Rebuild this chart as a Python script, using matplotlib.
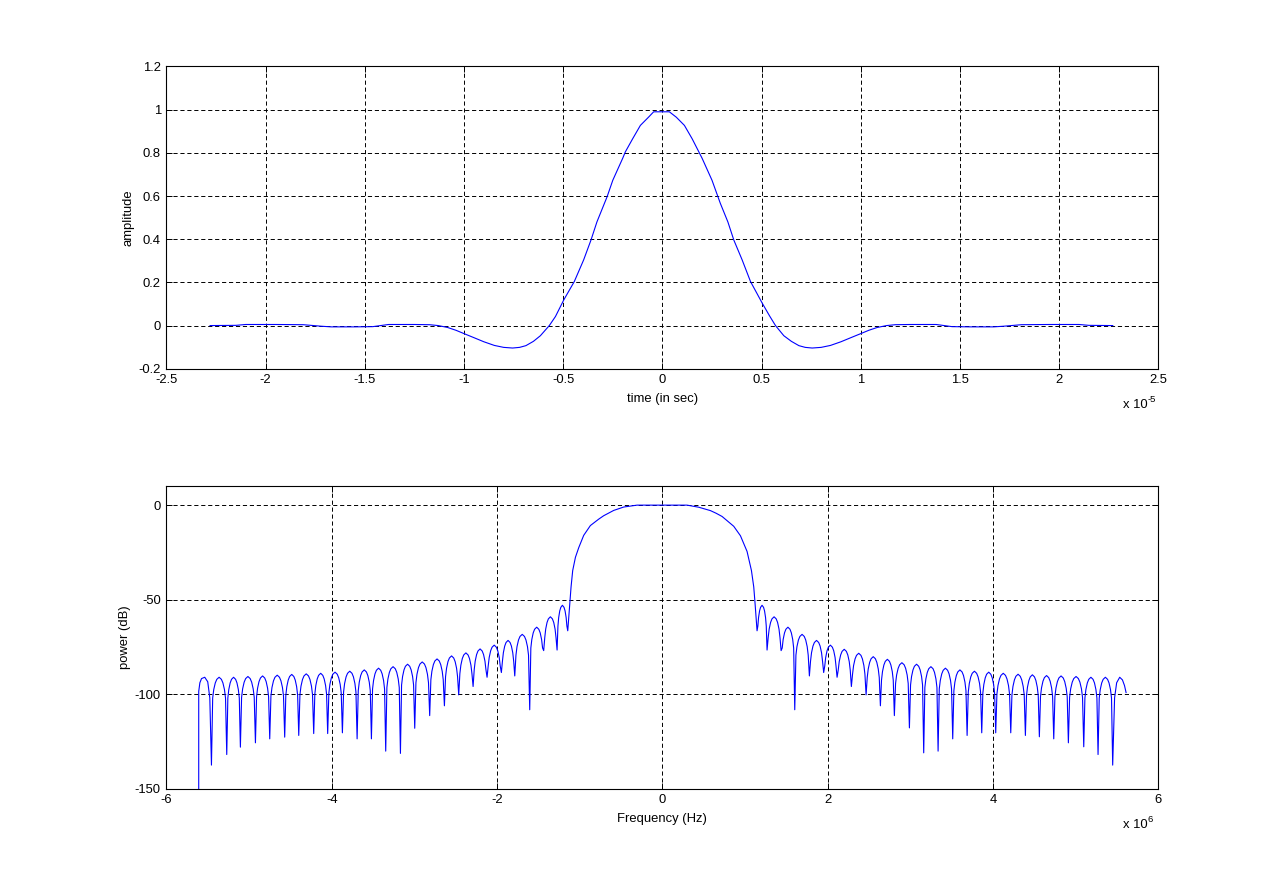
import numpy as np
import matplotlib
matplotlib.use("Agg")
import matplotlib.pyplot as plt
from matplotlib.ticker import FormatStrFormatter

plt.rcParams['font.family'] = ['Liberation Sans', 'DejaVu Sans']
plt.rcParams['font.size'] = 9.4
plt.rcParams['axes.unicode_minus'] = False
plt.rcParams['lines.scale_dashes'] = False

# ---- time domain pulse (time in units of 1e-5 s) ----
time_e5 = [-2.28, -2.15, -2.1, -1.95, -1.81, -1.72, -1.67, -1.55, -1.46, -1.42,
           -1.38, -1.25, -1.174, -1.13, -1.082, -1.04, -0.998, -0.95, -0.9, -0.847,
           -0.8, -0.755, -0.72, -0.688, -0.65, -0.615, -0.57, -0.539, -0.497, -0.444,
           -0.397, -0.36, -0.33, -0.279, -0.25, -0.2, -0.187, -0.15, -0.111, -0.07,
           -0.044, 0.0, 0.035, 0.07, 0.111, 0.15, 0.175, 0.2, 0.25, 0.292,
           0.33, 0.36, 0.402, 0.444, 0.503, 0.54, 0.57, 0.612, 0.65, 0.688,
           0.72, 0.755, 0.8, 0.847, 0.9, 0.95, 0.998, 1.04, 1.082, 1.13,
           1.174, 1.25, 1.38, 1.42, 1.46, 1.55, 1.67, 1.72, 1.81, 1.95,
           2.1, 2.15, 2.27]
amplitude = [0.0, 0.001, 0.005, 0.005, 0.004, -0.003, -0.006, -0.006, -0.005, 0.0,
             0.005, 0.005, 0.004, 0.0, -0.009, -0.022, -0.038, -0.056, -0.075, -0.092,
             -0.101, -0.104, -0.101, -0.093, -0.073, -0.047, 0.0, 0.042, 0.119, 0.204,
             0.304, 0.396, 0.48, 0.596, 0.673, 0.775, 0.804, 0.865, 0.927, 0.965,
             0.99, 0.99, 0.99, 0.965, 0.927, 0.865, 0.82, 0.775, 0.673, 0.566,
             0.48, 0.396, 0.304, 0.204, 0.104, 0.045, 0.0, -0.047, -0.073, -0.093,
             -0.101, -0.104, -0.101, -0.092, -0.075, -0.056, -0.038, -0.022, -0.009, 0.0,
             0.004, 0.005, 0.005, 0.0, -0.005, -0.006, -0.006, -0.003, 0.004, 0.005,
             0.005, 0.001, 0.0]

# ---- spectrum (frequency in units of 1e6 Hz) ----
# sidelobe nulls, null depths and lobe peak levels
left_null_f = [-5.455, -5.270, -5.105, -4.923, -4.750, -4.569, -4.399, -4.218, -4.049,
               -3.871, -3.693, -3.520, -3.347, -3.169, -2.996, -2.815, -2.637, -2.464,
               -2.290, -2.121, -1.948, -1.786, -1.605, -1.436, -1.274, -1.145]
left_null_db = [-137.6, -132, -128.1, -125.8, -123.7, -122.8, -121.9, -120.9, -120.9,
                -120.5, -123.7, -123.7, -130.2, -131.4, -118.1, -111.4, -106.2, -100.4,
                -96, -91.1, -88.6, -90.4, -108.3, -77, -76.7, -66.5]
left_peak_db = [-91.1, -91.1, -90.7, -90.4, -90.0, -89.6, -89.3, -89.0, -88.4, -87.9,
                -87.2, -86.3, -85.5, -84.2, -83.0, -81.4, -79.8, -78.2, -76.1, -74.1,
                -71.6, -68.4, -64.6, -59.1, -53.0]

right_null_f = [1.145, 1.266, 1.436, 1.601, 1.778, 1.951, 2.113, 2.286, 2.464, 2.637,
                2.806, 2.988, 3.161, 3.335, 3.512, 3.686, 3.863, 4.032, 4.214, 4.391,
                4.560, 4.734, 4.911, 5.097, 5.270, 5.447]
right_null_db = [-66.5, -76.7, -77, -108.3, -90.4, -88.6, -91.1, -96, -100.4, -106.2,
                 -111.4, -117.9, -131.1, -130.2, -123.7, -121.9, -120.5, -120.5, -120.5,
                 -121.9, -122.6, -123.7, -125.8, -127.9, -132, -137.6]
right_peak_db = [-53, -59.1, -64.6, -68.4, -71.6, -74.1, -76.3, -78.4, -80.2, -81.6,
                 -83.4, -84.2, -85.5, -86.3, -87.2, -87.9, -88.4, -89, -89.5, -89.8,
                 -90.2, -90.4, -90.7, -91.1, -91.1]

# shape of one sidelobe: position inside the lobe and level below its peak
lobe_u = [0.08, 0.15, 0.25, 0.35, 0.5, 0.65, 0.75, 0.85, 0.92]
lobe_drop = [-11, -6.5, -3, -1.1, 0, -1.1, -3, -6.5, -11]

main_f = [-1.121, -1.105, -1.085, -1.052, -1.012, -0.952, -0.871, -0.770, -0.710,
          -0.65, -0.589, -0.468, -0.306, 0.0, 0.298, 0.439, 0.581, 0.65, 0.722,
          0.863, 0.944, 1.024, 1.077, 1.105, 1.121]
main_db = [-52.1, -43.3, -34.6, -27.6, -22.5, -16, -10.8, -7.4, -5.6,
           -4.2, -2.8, -1.0, 0, 0, 0, -1.1, -2.9, -4.3, -6.0,
           -11.2, -16.2, -24.5, -34.6, -43.3, -52.1]

left_edge_f = [-5.609, -5.609, -5.595, -5.575, -5.536, -5.50, -5.475]
left_edge_db = [-155, -98.6, -94, -91.8, -91.1, -93.5, -102]
right_edge_f = [5.47, 5.495, 5.532, 5.565, 5.59, 5.609]
right_edge_db = [-102, -94, -91.1, -92.5, -95.5, -99.2]


def sidelobes(null_f, null_db, peak_db):
    fs, ds = [], []
    for i in range(len(peak_db)):
        fs.append(null_f[i])
        ds.append(null_db[i])
        for u, d in zip(lobe_u, lobe_drop):
            fs.append(null_f[i] + u * (null_f[i + 1] - null_f[i]))
            ds.append(peak_db[i] + d)
    fs.append(null_f[-1])
    ds.append(null_db[-1])
    return fs, ds


lf, ld = sidelobes(left_null_f, left_null_db, left_peak_db)
rf, rd = sidelobes(right_null_f, right_null_db, right_peak_db)
freq = left_edge_f + lf + main_f + rf + right_edge_f
power = left_edge_db + ld + main_db + rd + right_edge_db

W, H = 1280, 886
fig = plt.figure(figsize=(12.8, 8.86), dpi=100)
ax1 = fig.add_axes([0.13, 0.5838, 0.775, 0.3412])
ax2 = fig.add_axes([0.13, 0.11, 0.775, 0.3412])

ax1.plot(time_e5, amplitude, color=(0, 0, 1), lw=0.8)
ax1.set_xlim(-2.5, 2.5)
ax1.set_ylim(-0.2, 1.2)
ax1.set_xticks(np.arange(-2.5, 2.51, 0.5))
ax1.set_yticks(np.arange(-0.2, 1.21, 0.2))
ax1.set_xlabel('time (in sec)', labelpad=5)
ax1.set_ylabel('amplitude', labelpad=3)

ax2.plot(freq, power, color=(0, 0, 1), lw=0.8)
ax2.set_xlim(-6, 6)
ax2.set_ylim(-150, 10)
ax2.set_xticks(np.arange(-6, 6.1, 2))
ax2.set_yticks([-150, -100, -50, 0])
ax2.set_xlabel('Frequency (Hz)', labelpad=5)
ax2.set_ylabel('power (dB)', labelpad=3)

# MATLAB-style exponent labels below the right end of each x axis
for y_px, expo in ((405, '-5'), (825, '6')):
    fig.text(1148 / W, 1 - y_px / H, 'x 10', ha='right', va='center')
    fig.text(1148 / W, 1 - (y_px - 6) / H, expo, ha='left', va='center', fontsize=6.8)

for ax in (ax1, ax2):
    ax.xaxis.set_major_formatter(FormatStrFormatter('%g'))
    ax.yaxis.set_major_formatter(FormatStrFormatter('%g'))
    ax.grid(True, color='black', linestyle=(0, (3, 2)), linewidth=0.7)
    ax.tick_params(direction='in', length=4, width=0.7, top=True, right=True, pad=4)
    for s in ax.spines.values():
        s.set_linewidth(0.8)

fig.savefig('out.png', dpi=100, facecolor='white')
